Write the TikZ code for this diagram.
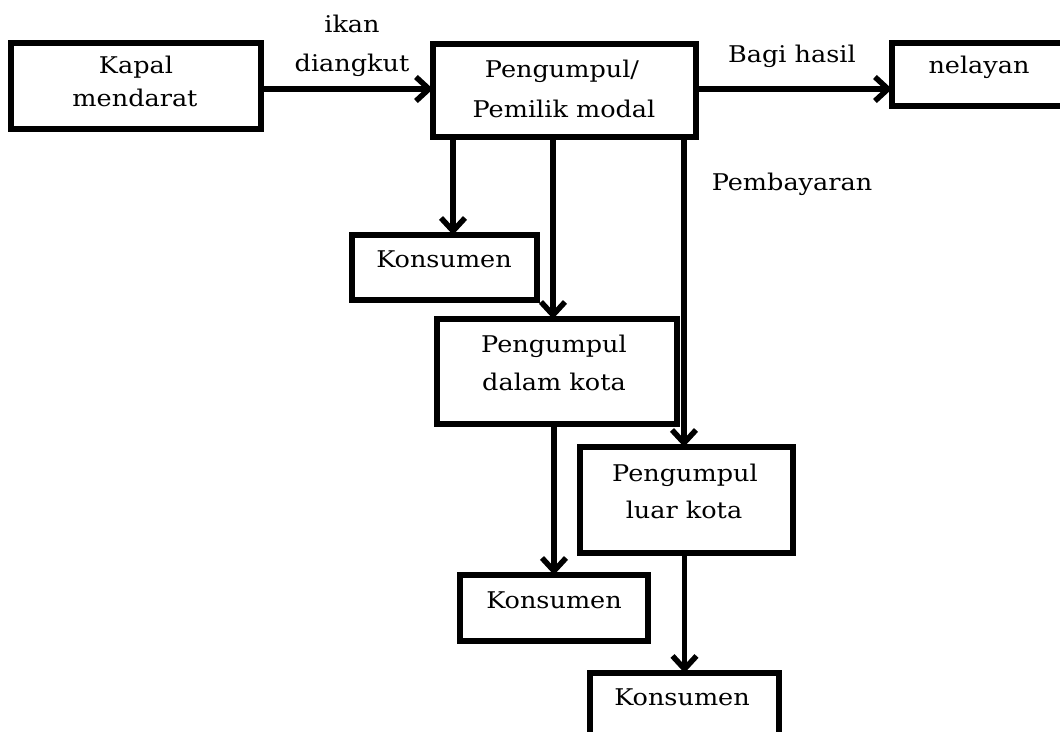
\documentclass[tikz,border=0pt]{standalone}
\usepackage{fontspec}
\setmainfont{DejaVu Serif}[FakeStretch=1.11]
\usetikzlibrary{arrows.meta}
\begin{document}
\begin{tikzpicture}[x=1pt,y=-1pt,
  box/.style={draw=black,line width=5.5pt,inner sep=0pt,outer sep=0pt},
  arr/.style={line width=5.5pt,-{Straight Barb[length=13pt,width=24pt]}},
  txt/.style={anchor=base,inner sep=0pt,font=\fontsize{23pt}{28pt}\selectfont}]
\useasboundingbox (0,0) rectangle (1060,731);
\fill[white] (0,0) rectangle (1060,731);
% boxes
\node[box,minimum width=250pt,minimum height=86pt] (kapal) at (136,86) {};
\node[box,minimum width=263pt,minimum height=93pt] (pm) at (564.5,90.5) {};
\node[box,minimum width=183pt,minimum height=63pt] (nel) at (983.5,74.5) {};
\node[box,minimum width=185pt,minimum height=65pt] (k1) at (444.5,267.5) {};
\node[box,minimum width=240pt,minimum height=105pt] (dk) at (557,371.5) {};
\node[box,minimum width=213pt,minimum height=106pt] (lk) at (686.5,500) {};
\node[box,minimum width=188pt,minimum height=66pt] (k2) at (554,608) {};
\node[box,minimum width=189pt,minimum height=72pt] (k3) at (684.5,709) {};
% texts
\node[txt] (t1) at (136,73) {Kapal};
\node[txt] (t2) at (135,106) {mendarat};
\node[txt] (t3) at (352,32) {ikan};
\node[txt] (t4) at (352,71) {diangkut};
\node[txt] (t5) at (562,77) {Pengumpul/};
\node[txt] (t6) at (564,117) {Pemilik modal};
\node[txt] (t7) at (792,62) {Bagi hasil};
\node[txt] (t8) at (979,73) {nelayan};
\node[txt] (t9) at (792,190) {Pembayaran};
\node[txt] (t10) at (444,267) {Konsumen};
\node[txt] (t11) at (554,352) {Pengumpul};
\node[txt] (t12) at (554,390) {dalam kota};
\node[txt] (t13) at (685,481) {Pengumpul};
\node[txt] (t14) at (684,518) {luar kota};
\node[txt] (t15) at (554,608) {Konsumen};
\node[txt] (t16) at (682,705) {Konsumen};
% connectors
\coordinate (kR) at ([yshift=-3pt]kapal.east);
\draw[arr] (kR) -- (kR -| pm.west);
\coordinate (pR) at ([yshift=1.5pt]pm.east);
\draw[arr] (pR) -- (pR -| nel.west);
\coordinate (s1) at ([xshift=-111.5pt]pm.south);
\draw[arr] (s1) -- (s1 |- k1.north);
\coordinate (s2) at ([xshift=-11.5pt]pm.south);
\draw[arr] (s2) -- (s2 |- dk.north);
\coordinate (s3) at ([xshift=119.5pt]pm.south);
\draw[arr] (s3) -- (s3 |- lk.north);
\draw[arr] (k2.north |- dk.south) -- (k2.north);
\draw[arr] (k3.north |- lk.south) -- (k3.north);
\end{tikzpicture}
\end{document}
